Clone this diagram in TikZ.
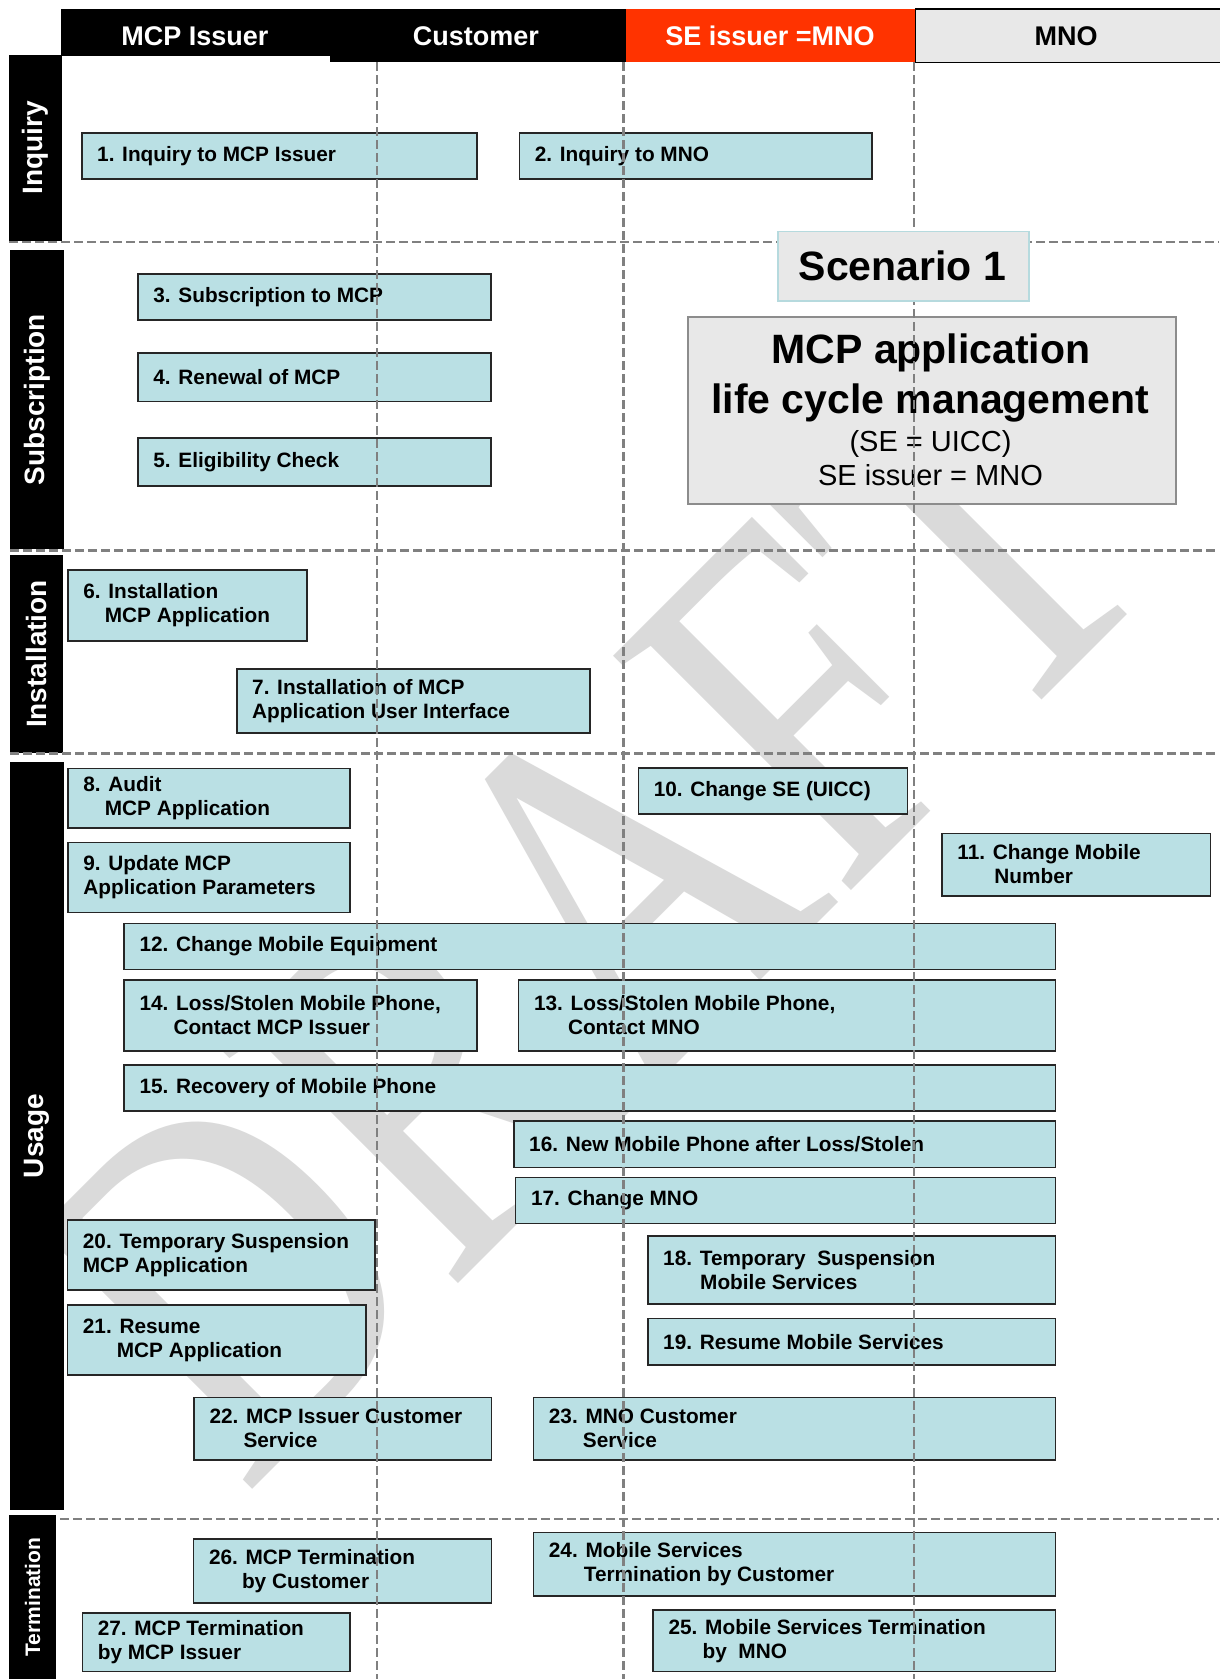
\documentclass[tikz,border=0pt]{standalone}
\usepackage{fontspec}
\setmainfont{Liberation Sans}
\newfontfamily\wmfont{Liberation Serif}
\usetikzlibrary{calc}

\definecolor{boxfill}{RGB}{186,224,228}
\definecolor{boxline}{RGB}{38,38,38}
\definecolor{sepline}{RGB}{128,128,128}
\definecolor{hdrred}{RGB}{255,51,0}
\definecolor{panelgray}{RGB}{232,232,232}
\definecolor{panelline}{RGB}{140,140,140}
\definecolor{tealline}{RGB}{182,218,222}
\definecolor{wmgray}{RGB}{218,218,218}

\tikzset{
  taskbox/.style={draw=boxline, fill=boxfill, line width=1.6pt, inner sep=0pt, anchor=north west},
  tasktext/.style={font=\fontsize{20.8}{24}\selectfont\bfseries, align=left, inner sep=0pt, anchor=west},
  lane/.style={fill=black, text=white, rotate=90, inner sep=0pt, font=\fontsize{28}{30}\selectfont\bfseries},
  cell/.style={inner sep=0pt, anchor=north west},
  cellfont/.style={font=\fontsize{27}{30}\selectfont\bfseries, anchor=base, inner sep=0pt},
  sep/.style={draw=sepline, line width=2.6pt, dash pattern=on 8.5pt off 4.5pt},
}

% name, x1, y1, x2, y2, text
\newcommand{\flowtask}[6]{%
  \node[taskbox, minimum width={(#4-#2)*1pt}, minimum height={(#5-#3)*1pt}] (#1) at (#2,#3) {};
  \node[tasktext] (#1t) at ([xshift=16pt]#1.west) {#6};
}

\begin{document}
\begin{tikzpicture}[x=1pt,y=-1pt]
\useasboundingbox (0,0) rectangle (1219,1679);
\fill[white] (0,0) rectangle (1219,1679);

% watermark
\node[inner sep=0pt, text=wmgray, font=\wmfont\fontsize{510}{510}\selectfont,
      rotate=45, xscale=0.784] (draft) at (589,915) {DRAFT};

% column headers
\node[cell, fill=black, minimum width=270pt, minimum height=47.2pt] (hmcp) at (60.6,8.3) {};
\node[cell, fill=black, minimum width=296pt, minimum height=53.2pt] (hcus) at (330,8.3) {};
\node[cell, fill=hdrred, minimum width=289pt, minimum height=53.2pt] (hse) at (626,8.3) {};
\node[cell, draw=black, line width=1.2pt, fill=panelgray, minimum width=310pt, minimum height=53.2pt] (hmno) at (915,8.3) {};
\node[cellfont, text=white] (hmcpt) at (195,45) {MCP Issuer};
\node[cellfont, text=white] (hcust) at (476,45) {Customer};
\node[cellfont, text=white] (hset) at (770,45) {SE issuer =MNO};
\node[cellfont, text=black] (hmnot) at (1066,45) {MNO};

% phase lanes
\node[lane, minimum width=186pt, minimum height=53pt] (inq) at (35.5,148) {Inquiry};
\node[lane, minimum width=299pt, minimum height=54pt] (sub) at (36.8,399.5) {Subscription};
\node[lane, minimum width=198pt, minimum height=53pt] (ins) at (36.5,654) {Installation};
\node[lane, minimum width=748pt, minimum height=54pt] (usg) at (36.5,1136) {Usage};
\node[lane, minimum width=164pt, minimum height=46.5pt, font=\fontsize{21}{24}\selectfont\bfseries] (ter) at (32.7,1597) {Termination};

% process steps
\flowtask{b1}{81}{132}{476}{178}{1. Inquiry to MCP Issuer}
\flowtask{b2}{518.7}{132}{871}{178}{2. Inquiry to MNO}
\flowtask{b3}{137.2}{273.3}{490}{319.3}{3. Subscription to MCP}
\flowtask{b4}{137.2}{352.3}{490}{400.7}{4. Renewal of MCP}
\flowtask{b5}{137.2}{437.3}{490}{485.3}{5. Eligibility Check}
\flowtask{b6}{67.2}{569.3}{306.3}{640}{6. Installation\\\hspace*{21.5pt}MCP Application}
\flowtask{b7}{236}{668.3}{589}{732.3}{7. Installation of MCP\\Application User Interface}
\flowtask{b8}{67.2}{767.7}{349}{827.3}{8. Audit\\\hspace*{21.5pt}MCP Application}
\flowtask{b9}{67.2}{841.7}{349}{911.7}{9. Update MCP\\Application Parameters}
\flowtask{b10}{637.6}{767.3}{906.5}{813.3}{10. Change SE (UICC)}
\flowtask{b11}{941.2}{832.5}{1209.6}{895}{11. Change Mobile\\\hspace*{37pt}Number}
\flowtask{b12}{123.3}{922.7}{1054.5}{968.5}{12. Change Mobile Equipment}
\flowtask{b13}{517.8}{979.3}{1054.5}{1050}{13. Loss/Stolen Mobile Phone,\\\hspace*{34pt}Contact MNO}
\flowtask{b14}{123.3}{979.3}{476.3}{1050}{14. Loss/Stolen Mobile Phone,\\\hspace*{34pt}Contact MCP Issuer}
\flowtask{b15}{123.3}{1064}{1054.5}{1110}{15. Recovery of Mobile Phone}
\flowtask{b16}{513}{1120.3}{1054.5}{1166.6}{16. New Mobile Phone after Loss/Stolen}
\flowtask{b17}{514.8}{1176.7}{1054.5}{1222.7}{17. Change MNO}
\flowtask{b18}{647}{1235}{1054.5}{1303.3}{18. Temporary\ \ Suspension\\\hspace*{37pt}Mobile Services}
\flowtask{b19}{647}{1317.7}{1054.5}{1364}{19. Resume Mobile Services}
\flowtask{b20}{66.7}{1219}{374}{1289.3}{20. Temporary Suspension\\MCP Application}
\flowtask{b21}{66.7}{1304}{365}{1374.3}{21. Resume\\\hspace*{34pt}MCP Application}
\flowtask{b22}{193.3}{1396.7}{490.7}{1459.3}{22. MCP Issuer Customer\\\hspace*{34pt}Service}
\flowtask{b23}{532.7}{1396.7}{1054.5}{1459.3}{23. MNO Customer\\\hspace*{34pt}Service}
\flowtask{b24}{532.7}{1531.7}{1054.5}{1595}{24. Mobile Services\\\hspace*{35pt}Termination by Customer}
\flowtask{b25}{652.4}{1609.3}{1054.5}{1670.7}{25. Mobile Services Termination\\\hspace*{34pt}by\ \ MNO}
\flowtask{b26}{192.8}{1538.3}{490.7}{1602}{26. MCP Termination\\\hspace*{33pt}by Customer}
\flowtask{b27}{81.6}{1612.3}{349}{1670.7}{27. MCP Termination\\by MCP Issuer}

% scenario title panel (below the lane dividers)
\node[cell, draw=panelline, fill=panelgray, line width=2pt, minimum width=487.5pt, minimum height=187pt] (lcm) at (687,315.7) {};
\node[font=\fontsize{41}{45}\selectfont\bfseries, anchor=base, inner sep=0pt] (lcm1) at (931,363.3) {MCP application};
\node[font=\fontsize{41}{45}\selectfont\bfseries, anchor=base, inner sep=0pt] (lcm2) at (930,413.3) {life cycle management};
\node[font=\fontsize{29}{32}\selectfont, anchor=base, inner sep=0pt] (lcm3) at (930.5,451.5) {(SE = UICC)};
\node[font=\fontsize{29}{32}\selectfont, anchor=base, inner sep=0pt] (lcm4) at (930.5,485) {SE issuer = MNO};

% lane dividers
\coordinate (v1t) at (377,62);   \coordinate (v1b) at (377,1679);
\coordinate (v2t) at (623.5,62); \coordinate (v2b) at (623.5,1679);
\coordinate (v3t) at (914,62);   \coordinate (v3b) at (914,1679);
\draw[sep] (v1t) -- (v1b);
\draw[sep] (v2t) -- (v2b);
\draw[sep] (v3t) -- (v3b);

% phase dividers
\coordinate (p1l) at (9,242);    \coordinate (p1r) at (1219,242);
\coordinate (p2l) at (10,550.5); \coordinate (p2r) at (1219,550.5);
\coordinate (p3l) at (10,753.5); \coordinate (p3r) at (1219,753.5);
\coordinate (p4l) at (60,1519);  \coordinate (p4r) at (1219,1519);
\draw[sep] (p1l) -- (p1r);
\draw[sep] (p2l) -- (p2r);
\draw[sep] (p3l) -- (p3r);
\draw[sep] (p4l) -- (p4r);

% scenario label
\node[cell, draw=tealline, fill=panelgray, line width=1.6pt, minimum width=251pt, minimum height=69.3pt] (scen) at (777,230.7) {};
\node[font=\fontsize{41}{45}\selectfont\bfseries, anchor=base, inner sep=0pt] (scent) at (902.5,280) {Scenario 1};
\end{tikzpicture}
\end{document}
